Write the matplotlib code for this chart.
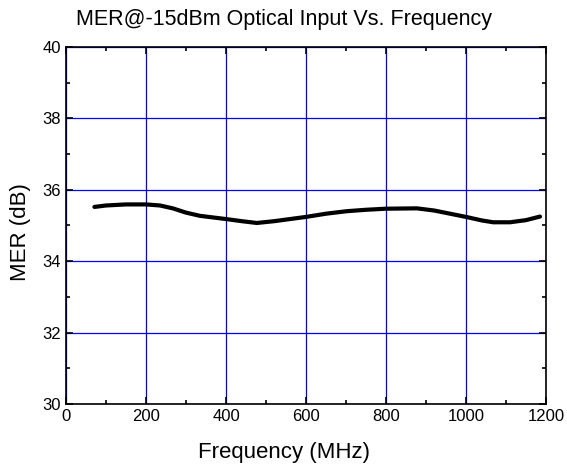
import matplotlib
matplotlib.use('Agg')
import matplotlib.pyplot as plt
from matplotlib.ticker import MultipleLocator

plt.rcParams['font.family'] = ['Liberation Sans', 'DejaVu Sans']

# MER curve
freq = [71, 100, 150, 200, 235, 267, 300, 335, 400, 440, 477, 520, 600, 650, 702, 750, 800, 877, 920, 1000, 1040, 1068, 1110, 1150, 1185]
mer = [35.52, 35.56, 35.59, 35.59, 35.56, 35.48, 35.36, 35.27, 35.18, 35.12, 35.07, 35.12, 35.24, 35.33, 35.40, 35.44, 35.47, 35.48, 35.42, 35.24, 35.14, 35.09, 35.09, 35.15, 35.25]

fig = plt.figure(figsize=(5.67, 4.68), dpi=100)
ax = fig.add_axes([0.1164, 0.1368, 0.8466, 0.7628])

ax.plot(freq, mer, color='black', linewidth=3, solid_capstyle='round')

ax.set_xlim(0, 1200)
ax.set_ylim(30, 40)
ax.xaxis.set_major_locator(MultipleLocator(200))
ax.xaxis.set_minor_locator(MultipleLocator(100))
ax.yaxis.set_major_locator(MultipleLocator(2))
ax.yaxis.set_minor_locator(MultipleLocator(1))
ax.tick_params(which='both', direction='in', top=True, right=True, labelsize=12, width=1.2)
ax.tick_params(which='major', length=5)
ax.tick_params(which='minor', length=3)
ax.grid(which='major', color='blue', linewidth=0.9)
for s in ax.spines.values():
    s.set_linewidth(1.2)

# labels are centred on the figure, not the axes
fig.text(0.5, 0.034, 'Frequency (MHz)', fontsize=16, ha='center', va='center')
fig.text(0.037, 0.504, 'MER (dB)', fontsize=16, ha='center', va='center', rotation=90)
fig.text(0.5, 0.958, 'MER@-15dBm Optical Input Vs. Frequency', fontsize=15.5, ha='center', va='center')

fig.savefig('out.png', dpi=100)
